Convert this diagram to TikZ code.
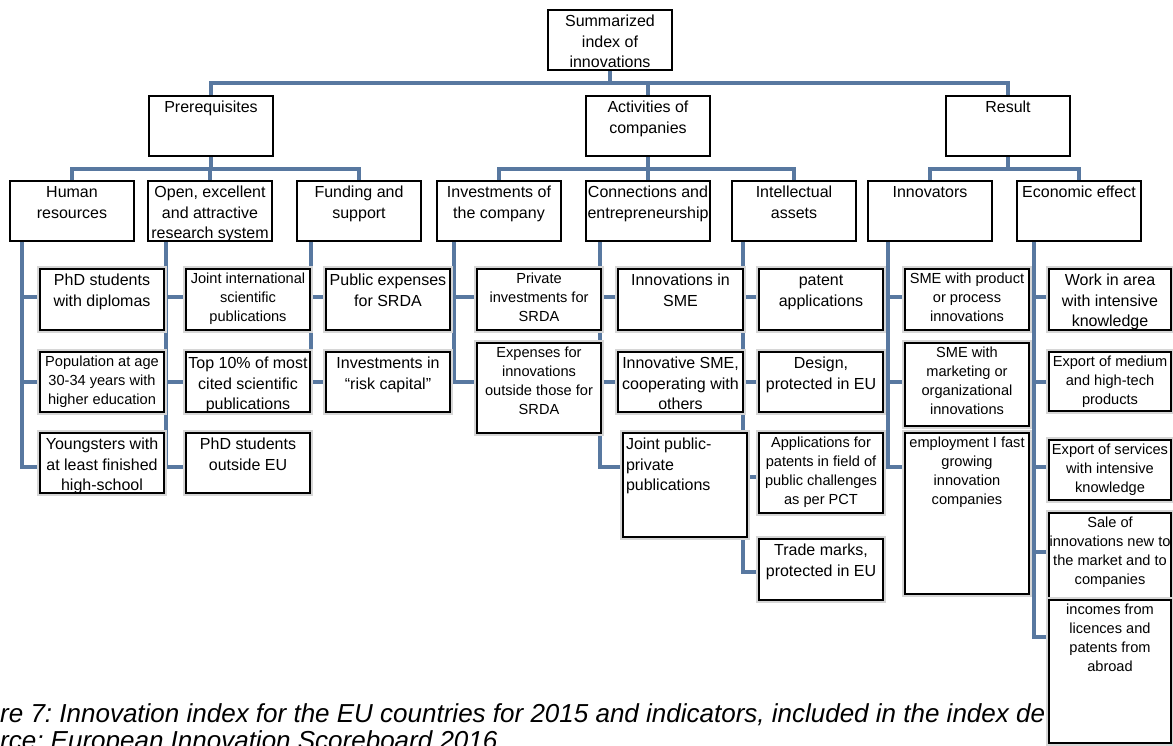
\documentclass[tikz,border=0pt]{standalone}
\usepackage{fontspec}
\setmainfont{Liberation Sans}
\usetikzlibrary{backgrounds}
\frenchspacing
\definecolor{linkblue}{RGB}{88,120,160}
\newcommand{\normaltxt}{\fontsize{16}{20.5}\selectfont\def\toppad{16.5pt}}
\newcommand{\smalltxt}{\fontsize{14.6}{19}\selectfont\def\toppad{14.5pt}}
\newcommand{\celltext}[4]{\parbox[c][#2][t]{#1}{#3\centering\rule{0pt}{\toppad}#4}}
\tikzstyle{cell}=[draw, line width=2pt, fill=white, inner sep=0pt, outer sep=0pt]
\tikzstyle{child cell}=[cell, preaction={draw=black!16, line width=6.5pt}]
\tikzstyle{link}=[draw, line width=3.2pt, linkblue]
\tikzstyle{caption}=[font=\fontsize{26}{30}\selectfont\itshape, inner sep=0pt]

\begin{document}
\begin{tikzpicture}[x=1pt, y=-1pt]
    \useasboundingbox (0,0) rectangle (1173,745);
    % Caption under the chart
    \node[caption, anchor=base west] (cap1) at (0,722) {re 7: Innovation index for the EU countries for 2015 and indicators, included in the index de};
    \node[caption, anchor=base west] (cap2) at (0,749) {rce: European Innovation Scoreboard 2016};
    % First the root and the three groups
    \node[cell, anchor=north west] (root) at (548,10) {\celltext{124pt}{60pt}{\normaltxt}{Summarized\\index of\\innovations}};
    \foreach \x/\name/\txt in {{149/prereq/Prerequisites},{586/activ/{Activities of\\companies}},{946/result/Result}}
    \node[cell, anchor=north west] (\name) at (\x,96) {\celltext{124pt}{60pt}{\normaltxt}{\txt}};
    % Second the indicator groups, each with the top of its trunk
    \foreach \x/\name/\tx/\txt in {{10/hr/22/{Human\\resources}},{148/open/166/{Open, excellent\\and attractive\\research system}},
        {297/fund/311/{Funding and\\support}},{437/invest/454/{Investments of\\the company}},
        {586/conn/600/{Connections and\\entrepreneurship}},{732/intel/743/{Intellectual\\assets}},
        {868/innov/888/{Innovators}},{1017/econ/1034/{Economic effect}}}
    {
    \node[cell, anchor=north west] (\name) at (\x,181) {\celltext{124pt}{60pt}{\normaltxt}{\txt}};
    \coordinate (\name-t) at (\tx,241);
    }
    % Then the indicators
    \foreach \x/\y/\w/\h/\name/\fnt/\txt in {
        {40/269/124/61/phd/\normaltxt/{PhD students\\with diplomas}},
        {40/352/124/60/pop/\smalltxt/{Population at age\\30-34 years with\\higher education}},
        {40/433/124/60/young/\normaltxt/{Youngsters with\\at least finished\\high-school}},
        {186/269/124/61/jointint/\smalltxt/{Joint international\\scientific\\publications}},
        {186/352/124/60/topten/\normaltxt/{Top 10\% of most\\cited scientific\\publications}},
        {186/433/124/60/phdout/\normaltxt/{PhD students\\outside EU}},
        {326/269/124/61/pubexp/\normaltxt/{Public expenses\\for SRDA}},
        {326/352/124/60/risk/\normaltxt/{Investments in\\“risk capital”}},
        {477/269/124/61/privinv/\smalltxt/{Private\\investments for\\SRDA}},
        {477/343/124/90/expinn/\smalltxt/{Expenses for\\innovations\\outside those for\\SRDA}},
        {618/269/125/61/innsme/\normaltxt/{Innovations in\\SME}},
        {618/352/125/60/coopsme/\normaltxt/{Innovative SME,\\cooperating with\\others}},
        {759/269/124/61/patent/\normaltxt/{patent\\applications}},
        {759/352/124/60/design/\normaltxt/{Design,\\protected in EU}},
        {759/433/124/80/pct/\smalltxt/{Applications for\\patents in field of\\public challenges\\as per PCT}},
        {759/539/124/61/trade/\normaltxt/{Trade marks,\\protected in EU}},
        {905/269/124/61/smeprod/\smalltxt/{SME with product\\or process\\innovations}},
        {905/343/124/83/smemark/\smalltxt/{SME with\\marketing or\\organizational\\innovations}},
        {905/433/124/161/employ/\smalltxt/{employment I fast\\growing\\innovation\\companies}},
        {1049/269/122/61/work/\normaltxt/{Work in area\\with intensive\\knowledge}},
        {1049/352/122/59/exmed/\smalltxt/{Export of medium\\and high-tech\\products}},
        {1049/440/122/60/exserv/\smalltxt/{Export of services\\with intensive\\knowledge}},
        {1049/513/122/87/sale/\smalltxt/{Sale of\\innovations new to\\the market and to\\companies}},
        {1049/600/122/143/income/\smalltxt/{incomes from\\licences and\\patents from\\abroad}}}
    \node[child cell, anchor=north west] (\name) at (\x,\y) {\celltext{\w pt}{\h pt}{\fnt}{\txt}};
    \node[child cell, anchor=north west] (jointpp) at (623,433) {\parbox[c][104pt][t]{124pt}{\normaltxt\raggedright\leftskip=3pt\rule{0pt}{\toppad}Joint public-\\private\\publications}};
    % Connectors behind the boxes
    \begin{pgfonlayer}{background}
    \foreach \dest in {prereq,activ,result}
    \path[link] (root.south) -- ++(0,13) -| (\dest.north);
    \foreach \source/\dest in {prereq/hr, prereq/open, prereq/fund, activ/invest, activ/conn,
        activ/intel, result/innov, result/econ}
    \path[link] (\source.south) -- ++(0,13) -| (\dest.north);
    \foreach \dest/\source/\dy in {phd/hr/28, pop/hr/30, young/hr/34, jointint/open/28, topten/open/30,
        phdout/open/34, pubexp/fund/28, risk/fund/30, privinv/invest/28, expinn/invest/39,
        innsme/conn/28, coopsme/conn/30, jointpp/conn/34, patent/intel/28, design/intel/30,
        pct/intel/44, trade/intel/33, smeprod/innov/28, smemark/innov/39, employ/innov/34,
        work/econ/28, exmed/econ/30, exserv/econ/27, sale/econ/39, income/econ/37}
    \path[link] (\source-t) |- ([yshift=-\dy]\dest.north west);
    \end{pgfonlayer}
\end{tikzpicture}
\end{document}
